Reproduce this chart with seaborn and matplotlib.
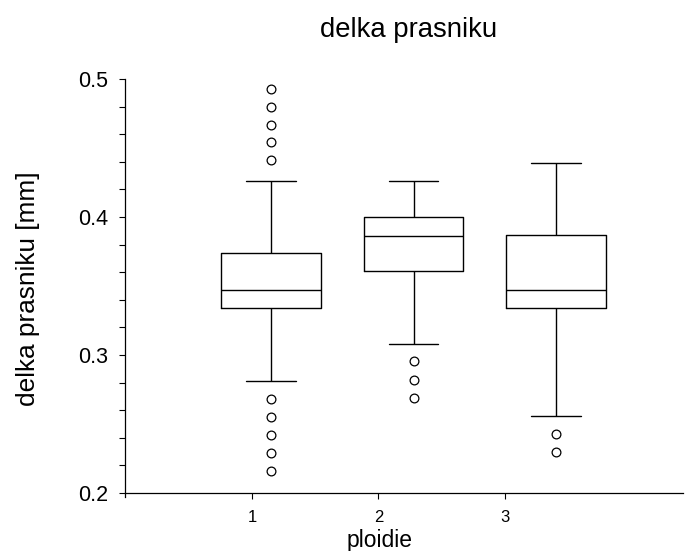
import numpy as np
import pandas as pd
import matplotlib
matplotlib.use("Agg")
import matplotlib.pyplot as plt
from matplotlib.ticker import MultipleLocator
import seaborn as sns

# Box-plot summaries of anther length [mm] per ploidy level
ploidie = ["1", "2", "3"]
lower_whisker = [0.281, 0.308, 0.256]
q1 = [0.334, 0.361, 0.334]
median = [0.347, 0.386, 0.347]
q3 = [0.374, 0.400, 0.387]
upper_whisker = [0.426, 0.426, 0.439]
outliers = [
    [0.216, 0.229, 0.242, 0.255, 0.268, 0.441, 0.454, 0.467, 0.480, 0.493],
    [0.269, 0.282, 0.296],
    [0.230, 0.243],
]
tick_labels = ["1", "2", "3"]


def sample_from_summary(lo, a, m, b, hi, extra, k=10):
    """Sample whose quartiles, whiskers and fliers reproduce the summary."""
    vals = list(extra) + [lo, hi] + [a] * k + [m] * k + [b] * k
    return sorted(vals)


rows = []
for i, p in enumerate(ploidie):
    for v in sample_from_summary(lower_whisker[i], q1[i], median[i], q3[i],
                                 upper_whisker[i], outliers[i]):
        rows.append({"ploidie": p, "delka": v})
df = pd.DataFrame(rows)

sns.set_style("ticks")
plt.rcParams["font.family"] = ["Liberation Sans", "DejaVu Sans"]
plt.rcParams.update({
    "text.color": "black",
    "axes.labelcolor": "black",
    "xtick.color": "black",
    "ytick.color": "black",
})

fig = plt.figure(figsize=(6.88, 5.51), dpi=100)
ax = fig.add_axes([0.1817, 0.1053, 0.811, 0.7513])

sns.boxplot(
    data=df, x="ploidie", y="delka", order=ploidie, ax=ax,
    fill=False, color="black", linecolor="black", linewidth=1.0,
    width=0.70, whis=1.5,
    flierprops=dict(marker="o", markersize=6.3, markerfacecolor="none",
                    markeredgecolor="black", markeredgewidth=0.9),
)

ax.set_ylim(0.2, 0.5)
ax.yaxis.set_major_locator(MultipleLocator(0.1))
ax.yaxis.set_minor_locator(MultipleLocator(0.02))
ax.set_yticklabels([f"{t:.1f}" for t in ax.get_yticks()])
ax.set_xlim(-1.0246, 2.891)
ax.set_xticks([-0.133, 0.753, 1.642])
ax.set_xticklabels(tick_labels)

ax.tick_params(axis="y", which="both", direction="out", length=4.3,
               width=0.8, color="black", labelcolor="black",
               labelsize=15.5, pad=8)
ax.tick_params(axis="x", direction="out", length=4.3, width=0.8,
               color="black", labelcolor="black", labelsize=12, pad=8)

for side in ("top", "right"):
    ax.spines[side].set_visible(False)
for side in ("left", "bottom"):
    ax.spines[side].set_color("black")
    ax.spines[side].set_linewidth(0.9)
ax.spines["left"].set_bounds(0.197, 0.5)

ax.set_xlabel("")
ax.set_ylabel("")
fig.text(0.5945, 0.9334, "delka prasniku", ha="center", va="baseline",
         fontsize=19.8)
fig.text(0.551, 0.0073, "ploidie", ha="center", va="baseline",
         fontsize=16.5)
fig.text(0.040, 0.4764, "delka prasniku [mm]", ha="center", va="center",
         rotation=90, fontsize=18.9)

fig.savefig("out.png", dpi=100)
